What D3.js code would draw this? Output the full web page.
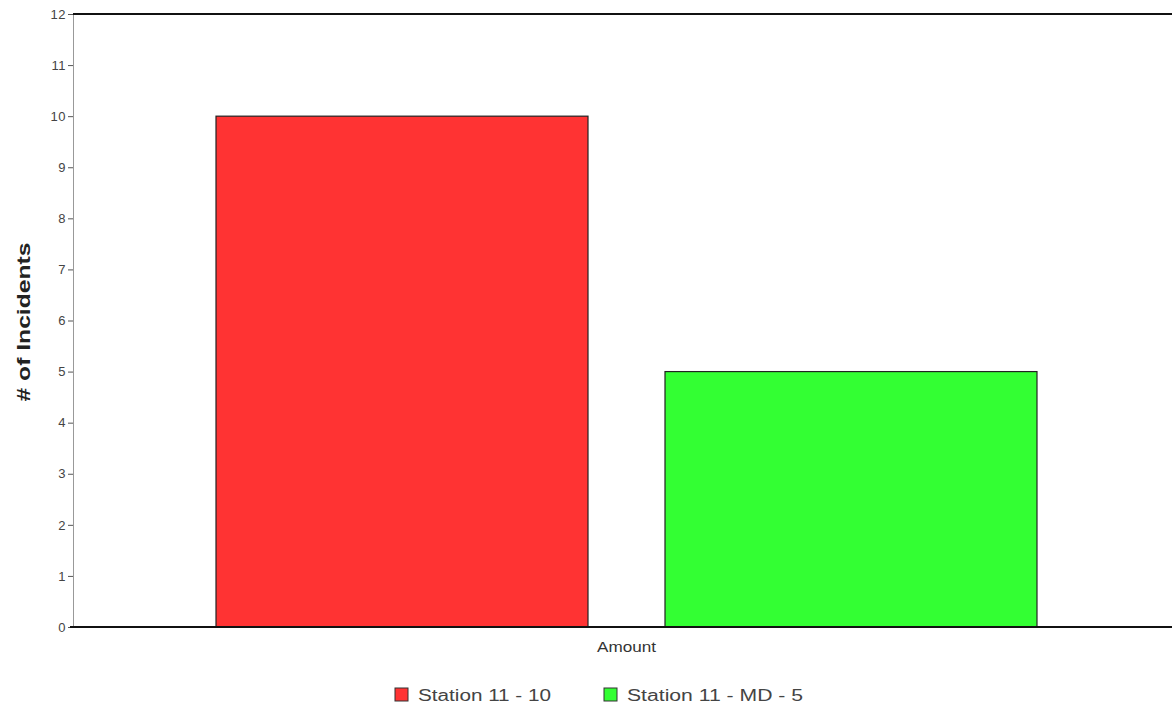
<!DOCTYPE html>
<html><head><meta charset="utf-8">
<script src="https://cdn.jsdelivr.net/npm/d3@7"></script>
<style>body{margin:0;background:#fff;}svg{display:block;}</style>
</head><body>
<svg id="c" width="1172" height="709"></svg>
<script>
const categories = ["Amount"];
const seriesNames = ["Station 11 - 10", "Station 11 - MD - 5"];
const seriesValues = [10, 5];
const seriesColors = ["#ff3333", "#33ff33"];
const yTicks = [0,1,2,3,4,5,6,7,8,9,10,11,12];

const FONT = "Liberation Sans, Arial, sans-serif";
const svg = d3.select("#c");
const m = {left: 73, right: 1180, top: 14, bottom: 627};
const y = d3.scaleLinear().domain([0, 12]).range([m.bottom, m.top]);
const x0 = d3.scaleBand().domain(categories).range([m.left, m.right]).padding(0);
const x1 = d3.scaleBand().domain(seriesNames).range([0, x0.bandwidth()]).paddingInner(0.1715).paddingOuter(0.3185);

// bars
const data = seriesNames.map((n, i) => ({name: n, value: seriesValues[i], color: seriesColors[i], cat: categories[0]}));
svg.append("g").selectAll("rect").data(data).join("rect")
  .attr("x", d => x0(d.cat) + x1(d.name))
  .attr("y", d => y(d.value))
  .attr("width", x1.bandwidth())
  .attr("height", d => y(0) - y(d.value))
  .attr("fill", d => d.color)
  .attr("stroke", "#222")
  .attr("stroke-width", 1.2);

// y axis
const yAxis = d3.axisLeft(y).tickValues(yTicks).tickSize(5).tickPadding(2);
const ga = svg.append("g").attr("transform", `translate(${m.left},0)`).call(yAxis);
ga.select(".domain").attr("stroke", "#999").attr("stroke-width", 1);
ga.selectAll(".tick line").attr("stroke", "#555");
ga.selectAll(".tick text").attr("fill", "#444").attr("font-family", FONT).attr("font-size", 13).attr("letter-spacing", 0.5);

// top and bottom lines
svg.append("line").attr("x1", m.left).attr("x2", 1172).attr("y1", m.top).attr("y2", m.top).attr("stroke", "#111").attr("stroke-width", 2);
svg.append("line").attr("x1", m.left - 3).attr("x2", 1172).attr("y1", m.bottom).attr("y2", m.bottom).attr("stroke", "#111").attr("stroke-width", 2);

// x category label
svg.append("text").attr("x", x0(categories[0]) + x0.bandwidth()/2).attr("y", 652)
  .attr("text-anchor", "middle").attr("font-family", FONT)
  .attr("font-size", 14).attr("fill", "#333")
  .attr("textLength", 59).attr("lengthAdjust", "spacingAndGlyphs").text(categories[0]);

// y title
svg.append("text").attr("transform", "translate(30,322) rotate(-90)")
  .attr("text-anchor", "middle").attr("font-family", FONT)
  .attr("font-size", 19).attr("font-weight", "bold").attr("fill", "#222")
  .attr("textLength", 159).attr("lengthAdjust", "spacingAndGlyphs").text("# of Incidents");

// legend
const legX = [395, 604];
const legLen = [133, 176];
const lg = svg.append("g").selectAll("g").data(data).join("g")
  .attr("transform", (d, i) => `translate(${legX[i]},688)`);
lg.append("rect").attr("width", 13).attr("height", 13).attr("fill", d => d.color).attr("stroke", "#333").attr("stroke-width", 1);
lg.append("text").attr("x", 23).attr("y", 13).attr("font-family", FONT)
  .attr("font-size", 16).attr("fill", "#444")
  .attr("textLength", (d, i) => legLen[i]).attr("lengthAdjust", "spacingAndGlyphs").text(d => d.name);
</script>
</body></html>
